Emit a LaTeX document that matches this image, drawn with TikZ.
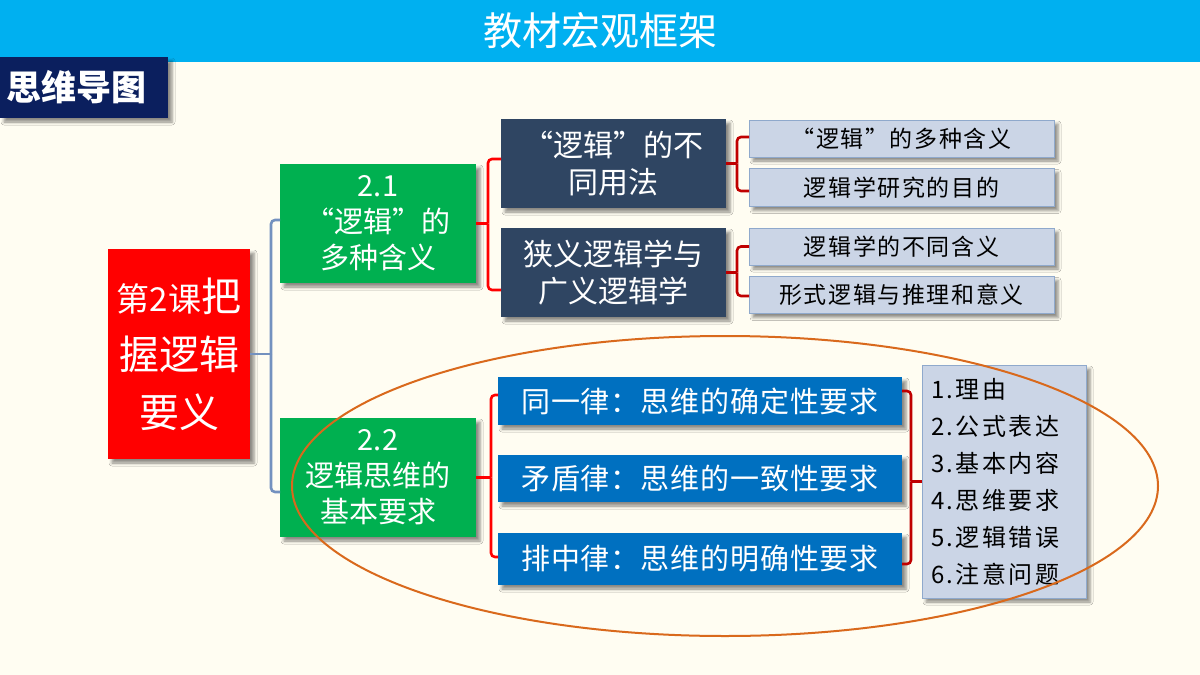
\documentclass[tikz,border=0pt]{standalone}
\usepackage{fontspec}
\setmainfont{Noto Sans CJK SC}
\usepackage{tikz}
\usetikzlibrary{shadows.blur}
\definecolor{slidebg}{HTML}{FFFDF2}
\definecolor{barcyan}{HTML}{00B0F0}
\definecolor{navytab}{HTML}{0B1F5E}
\definecolor{lessonred}{HTML}{FF0000}
\definecolor{secgreen}{HTML}{00B050}
\definecolor{slate}{HTML}{2F4562}
\definecolor{lawblue}{HTML}{0070C0}
\definecolor{paleblue}{HTML}{CBD5E6}
\definecolor{paleedge}{HTML}{8FA9CC}
\definecolor{steelline}{HTML}{7391BF}
\definecolor{darkred}{HTML}{C00000}
\definecolor{ringorange}{HTML}{D9691C}

\begin{document}
\begin{tikzpicture}[x=1pt,y=-1pt,
  box/.style={inner sep=0pt,outer sep=0pt,align=center,text=white,
    blur shadow={shadow xshift=4pt,shadow yshift=-4pt,shadow blur radius=3pt,shadow opacity=45}},
  palebox/.style={box,fill=paleblue,draw=paleedge,line width=0.8pt,text=black},
  brace/.style={line width=2.6pt,rounded corners=4pt}]
  % slide and title bar
  \useasboundingbox (0,0) rectangle (1200,675);
  \fill[slidebg] (0,0) rectangle (1200,675);
  \fill[barcyan] (0,0) rectangle (1200,62);
  \node[text=white,font=\fontsize{39}{42}\selectfont] (title) at (600,31) {教材宏观框架};
  \node[box,fill=navytab,minimum width=168,minimum height=61,text width=156,align=left,
    font=\bfseries\fontsize{35}{38}\selectfont] (tab) at (84,87.5) {思维导图};
  % lesson and the two sections
  \node[box,fill=lessonred,minimum width=142,minimum height=210,
    font=\fontsize{40}{58}\selectfont] (lesson) at (179,354)
    {{\fontsize{33}{58}\selectfont 第2课}把\\握逻辑\\要义};
  \node[box,fill=secgreen,minimum width=196,minimum height=119,
    font=\fontsize{29}{36}\selectfont] (secA) at (378,223.5) {2.1\\“逻辑”的\\多种含义};
  \node[box,fill=secgreen,minimum width=196,minimum height=119,
    font=\fontsize{29}{36}\selectfont] (secB) at (378,477.5) {2.2\\逻辑思维的\\基本要求};
  % section 2.1
  \node[box,fill=slate,minimum width=225,minimum height=89,
    font=\fontsize{30}{37}\selectfont] (useA) at (613.5,163.5) {“逻辑”的不\\同用法};
  \node[box,fill=slate,minimum width=225,minimum height=89,
    font=\fontsize{30}{37}\selectfont] (useB) at (613.5,272.5) {狭义逻辑学与\\广义逻辑学};
  \node[palebox,minimum width=305,minimum height=37,
    font=\fontsize{23}{26}\selectfont\addfontfeature{LetterSpace=7}]
    (m1) at (901.5,138.5) {“逻辑”的多种含义};
  \node[palebox,minimum width=305,minimum height=38,
    font=\fontsize{23}{26}\selectfont\addfontfeature{LetterSpace=7}]
    (m2) at (901.5,187.5) {逻辑学研究的目的};
  \node[palebox,minimum width=305,minimum height=37,
    font=\fontsize{23}{26}\selectfont\addfontfeature{LetterSpace=7}]
    (m3) at (901.5,246.5) {逻辑学的不同含义};
  \node[palebox,minimum width=305,minimum height=37,
    font=\fontsize{23}{26}\selectfont\addfontfeature{LetterSpace=7}]
    (m4) at (901.5,295) {形式逻辑与推理和意义};
  % section 2.2
  \node[box,fill=lawblue,minimum width=404,minimum height=48,
    font=\fontsize{29}{32}\selectfont\addfontfeature{LetterSpace=3}]
    (law1) at (700,401) {同一律：思维的确定性要求};
  \node[box,fill=lawblue,minimum width=404,minimum height=47,
    font=\fontsize{29}{32}\selectfont\addfontfeature{LetterSpace=3}]
    (law2) at (700,478.5) {矛盾律：思维的一致性要求};
  \node[box,fill=lawblue,minimum width=404,minimum height=52,
    font=\fontsize{29}{32}\selectfont\addfontfeature{LetterSpace=3}]
    (law3) at (700,559) {排中律：思维的明确性要求};
  \node[palebox,minimum width=164,minimum height=233,text width=146,align=left,
    font=\fontsize{24}{37}\selectfont\addfontfeature{LetterSpace=10}] (aspects) at (1004,481.5)
    {1.理由\\2.公式表达\\3.基本内容\\4.思维要求\\5.逻辑错误\\6.注意问题};
  % braces
  \draw[brace,steelline] (lesson.east) -- ++(21,0) coordinate (t0);
  \draw[brace,steelline] (t0) |- ([yshift=3.5pt]secA.west);
  \draw[brace,steelline] (t0) |- ([yshift=-14.5pt]secB.west);
  \draw[brace,red] (secA.east) -- ++(12,0) coordinate (t1);
  \draw[brace,red] (t1) |- ([yshift=4.5pt]useA.west);
  \draw[brace,red] (t1) |- ([yshift=-17.5pt]useB.west);
  \draw[brace,darkred] (useA.east) -- ++(11,0) coordinate (t2);
  \draw[brace,darkred] (t2) |- ([yshift=1.5pt]m1.west);
  \draw[brace,darkred] (t2) |- ([yshift=-3.5pt]m2.west);
  \draw[brace,darkred] (useB.east) -- ++(11,0) coordinate (t3);
  \draw[brace,darkred] (t3) |- (m3.west);
  \draw[brace,darkred] (t3) |- ([yshift=-1pt]m4.west);
  \draw[brace,red] (secB.east) -- ++(15,0) coordinate (t4);
  \draw[brace,red] (t4) |- ([yshift=6pt]law1.west);
  \draw[brace,red] (t4) |- ([yshift=2pt]law3.west);
  \draw[brace,darkred] (aspects.west) -- ++(-11,0) coordinate (t5);
  \draw[brace,darkred] (t5) |- ([yshift=10pt]law1.east);
  \draw[brace,darkred] (t5) |- ([yshift=-5pt]law3.east);
  % ring round section 2.2
  \draw[ringorange,line width=2pt] (725,486) ellipse [x radius=433,y radius=150];
\end{tikzpicture}
\end{document}
